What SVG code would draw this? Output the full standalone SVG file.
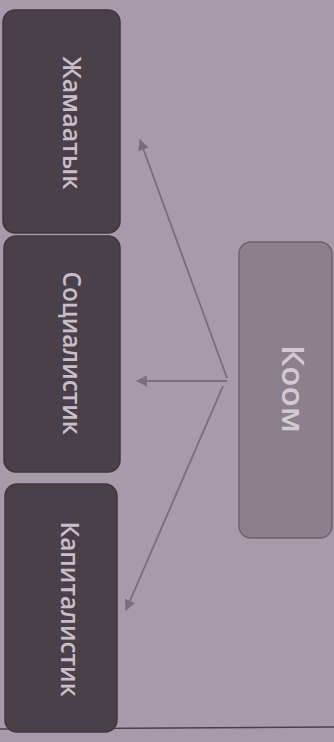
<svg xmlns="http://www.w3.org/2000/svg" width="334" height="742" viewBox="0 0 334 742">
<defs>
<style>
.bg{fill:#a99aab}
.dark{fill:#4a404a;stroke:#3e353f;stroke-width:1.5}
.mid{fill:#8b808c;stroke:#6e636f;stroke-width:1.5}
.lbl{font-family:"Open Sans","Noto Sans","DejaVu Sans",sans-serif;font-weight:600;fill:#c9bec9;text-anchor:middle}
.koom{font-family:"Open Sans","Noto Sans","DejaVu Sans",sans-serif;font-weight:600;fill:#d3c9d3;text-anchor:middle}
.conn{stroke:#7a6d7c;stroke-width:1.8;fill:none}
</style>
<marker id="ah" viewBox="0 0 10 10" refX="9" refY="5" markerWidth="13" markerHeight="11" orient="auto" markerUnits="userSpaceOnUse">
<path d="M0,0 L10,5 L0,10 z" fill="#7a6d7c"/>
</marker>
</defs>
<rect class="bg" x="0" y="0" width="334" height="742"/>
<line x1="0" y1="729" x2="334" y2="727" stroke="#4a404a" stroke-width="1.5"/>
<g id="n-zhamaatyk">
<rect class="dark" x="3" y="10" width="117" height="223" rx="12"/>
<text class="lbl" font-size="26" transform="translate(63,123) rotate(90)" textLength="133" lengthAdjust="spacingAndGlyphs">Жамаатык</text>
</g>
<g id="n-socialistik">
<rect class="dark" x="4" y="236" width="116" height="236" rx="12"/>
<text class="lbl" font-size="26" transform="translate(63,353) rotate(90)" textLength="163" lengthAdjust="spacingAndGlyphs">Социалистик</text>
</g>
<g id="n-kapitalistik">
<rect class="dark" x="5" y="484" width="112" height="248" rx="12"/>
<text class="lbl" font-size="26" transform="translate(61,609) rotate(90)" textLength="175" lengthAdjust="spacingAndGlyphs">Капиталистик</text>
</g>
<g id="n-koom">
<rect class="mid" x="239" y="242" width="93" height="296" rx="12"/>
<text class="koom" font-size="30" transform="translate(282,389) rotate(90)" textLength="88" lengthAdjust="spacingAndGlyphs">Коом</text>
</g>
<g id="connectors">
<line class="conn" x1="227" y1="378" x2="140" y2="140" marker-end="url(#ah)"/>
<line class="conn" x1="227" y1="381" x2="137" y2="381" marker-end="url(#ah)"/>
<line class="conn" x1="223" y1="386" x2="126" y2="610" marker-end="url(#ah)"/>
</g>
</svg>
